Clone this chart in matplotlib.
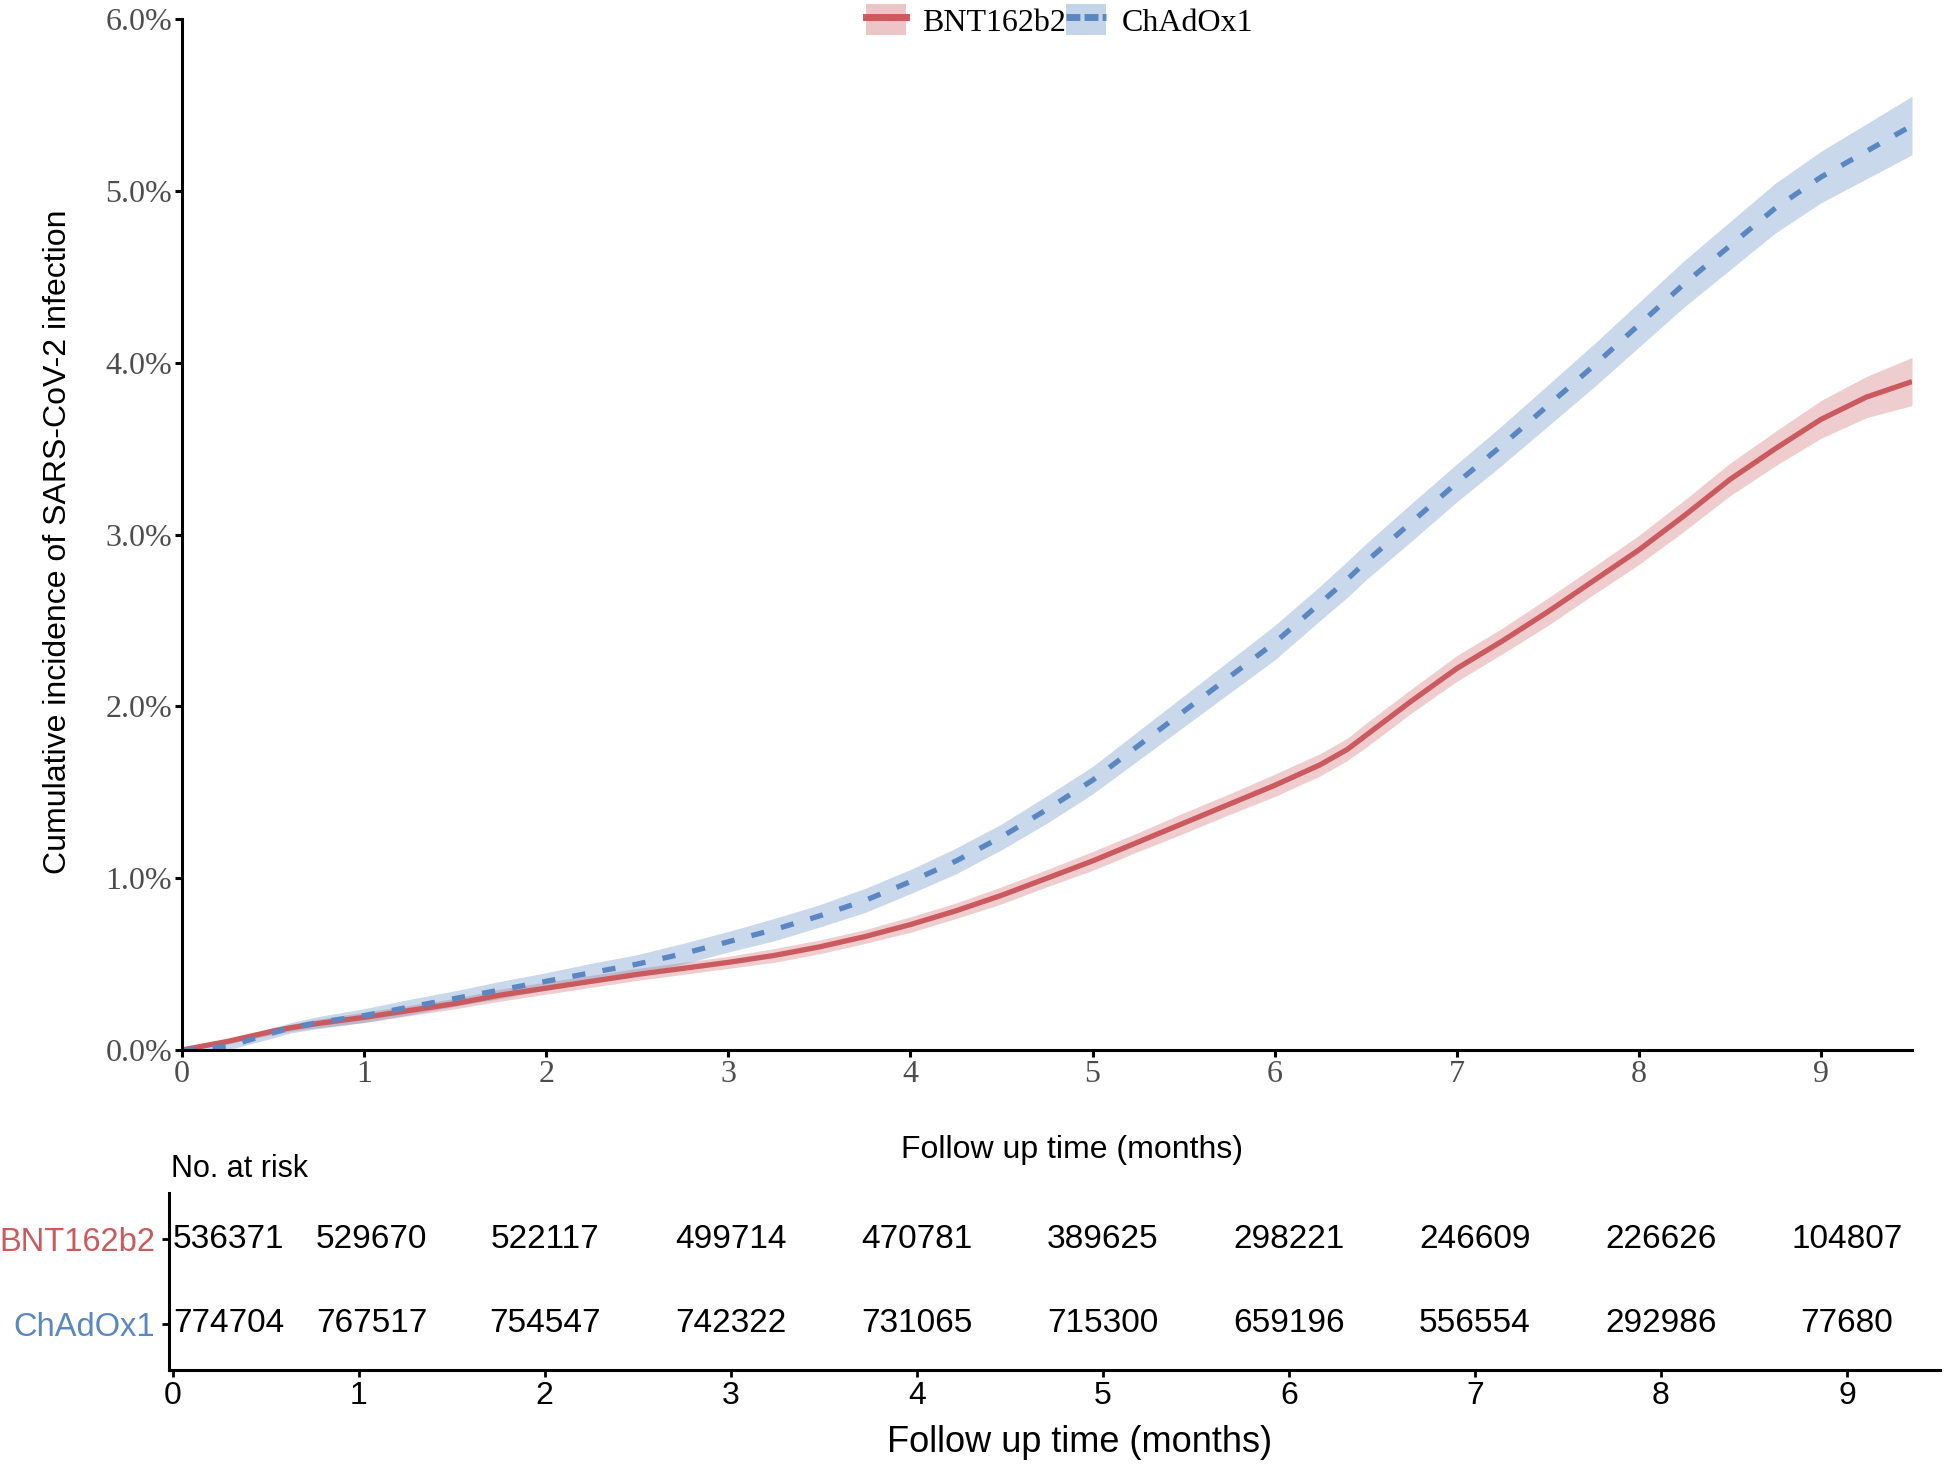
import matplotlib
matplotlib.use("Agg")
import matplotlib.pyplot as plt
from matplotlib.patches import Patch
from matplotlib.lines import Line2D
import numpy as np

# ---------------- data ----------------
months = [0, 0.25, 0.5, 0.6, 0.75, 1.0, 1.25, 1.5, 1.75, 2.0, 2.25, 2.5, 2.75, 3.0, 3.25, 3.5, 3.75,
          4.0, 4.25, 4.5, 4.75, 5.0, 5.25, 5.5, 5.75, 6.0, 6.25, 6.4, 6.5, 6.75, 7.0, 7.25, 7.5,
          7.75, 8.0, 8.25, 8.5, 8.75, 9.0, 9.25, 9.5]
bnt_pct = [0.0, 0.05, 0.11, 0.13, 0.155, 0.19, 0.23, 0.27, 0.32, 0.36, 0.40, 0.44, 0.475, 0.51, 0.55, 0.60, 0.66,
           0.73, 0.81, 0.90, 1.00, 1.10, 1.21, 1.32, 1.43, 1.54, 1.66, 1.75, 1.83, 2.03, 2.22, 2.38, 2.55,
           2.73, 2.91, 3.11, 3.32, 3.50, 3.67, 3.80, 3.89]
bnt_half = [0.0, 0.015, 0.02, 0.02, 0.025, 0.03, 0.03, 0.03, 0.035, 0.035, 0.035, 0.035, 0.035, 0.035, 0.04, 0.04, 0.04,
            0.045, 0.045, 0.05, 0.05, 0.055, 0.055, 0.06, 0.06, 0.065, 0.065, 0.065, 0.07, 0.07, 0.075, 0.075, 0.08,
            0.08, 0.085, 0.09, 0.095, 0.10, 0.11, 0.12, 0.14]
chad_pct = [0.0, 0.02, 0.10, 0.13, 0.16, 0.20, 0.25, 0.30, 0.35, 0.40, 0.45, 0.50, 0.56, 0.63, 0.70, 0.78, 0.87,
            0.98, 1.10, 1.24, 1.40, 1.57, 1.77, 1.97, 2.17, 2.37, 2.60, 2.74, 2.84, 3.07, 3.30, 3.52, 3.75,
            3.98, 4.22, 4.46, 4.68, 4.90, 5.08, 5.23, 5.38]
chad_half = [0.0, 0.02, 0.03, 0.03, 0.035, 0.04, 0.045, 0.045, 0.05, 0.05, 0.055, 0.055, 0.06, 0.06, 0.065, 0.065, 0.07,
             0.07, 0.075, 0.075, 0.08, 0.08, 0.085, 0.09, 0.095, 0.10, 0.10, 0.105, 0.105, 0.11, 0.11, 0.115, 0.12,
             0.125, 0.13, 0.135, 0.14, 0.145, 0.15, 0.16, 0.17]

groups = ["BNT162b2", "ChAdOx1"]
risk_times = [0, 1, 2, 3, 4, 5, 6, 7, 8, 9]
risk_bnt = [536371, 529670, 522117, 499714, 470781, 389625, 298221, 246609, 226626, 104807]
risk_chad = [774704, 767517, 754547, 742322, 731065, 715300, 659196, 556554, 292986, 77680]
y_ticks = [0.0, 1.0, 2.0, 3.0, 4.0, 5.0, 6.0]

# ---------------- style ----------------
RED = "#CB5A5F"
BLUE = "#5A87C1"
SERIF = "Liberation Serif"
SANS = "Liberation Sans"
W, H = 1944, 1464

fig = plt.figure(figsize=(W / 100, H / 100), dpi=100)

def fx(px):
    return px / W

def fy(py):
    return 1 - py / H

# ---------------- main plot ----------------
ax = fig.add_axes([fx(182), fy(1050), fx(1912 - 182), (1050 - 19) / H])
m = np.array(months)
b = np.array(bnt_pct)
bh = np.array(bnt_half)
c = np.array(chad_pct)
ch = np.array(chad_half)

ax.fill_between(m, b - bh, b + bh, color=RED, alpha=0.3, lw=0)
ax.fill_between(m, c - ch, c + ch, color=BLUE, alpha=0.32, lw=0)
ax.plot(m, b, color=RED, lw=3.8, solid_capstyle="butt", solid_joinstyle="round")
ax.plot(m, c, color=BLUE, lw=3.8, dashes=(2.5, 3.3))

ax.set_xlim(0, 9.5)
ax.set_ylim(0, 6.0)
ax.set_xticks(risk_times)
ax.set_xticklabels([str(t) for t in risk_times], fontfamily=SERIF, fontsize=23, color="#4D4D4D")
ax.set_yticks(y_ticks)
ax.set_yticklabels([f"{v:.1f}%" for v in y_ticks], fontfamily=SERIF, fontsize=23, color="#4D4D4D")
for s in ["top", "right"]:
    ax.spines[s].set_visible(False)
for s in ["left", "bottom"]:
    ax.spines[s].set_linewidth(2.2)
ax.tick_params(axis="both", direction="out", length=5, width=2.2, pad=2)

fig.text(fx(58), fy(542), "Cumulative incidence of SARS-CoV-2 infection", rotation=90,
         ha="center", va="center", fontsize=23, fontfamily=SANS)
fig.text(fx(1072), fy(1150), "Follow up time (months)", ha="center", va="center",
         fontsize=23, fontfamily=SANS)

# legend
h_red = (Patch(facecolor=RED, alpha=0.35, edgecolor="none"), Line2D([], [], color=RED, lw=5))
h_blue = (Patch(facecolor=BLUE, alpha=0.35, edgecolor="none"), Line2D([], [], color=BLUE, lw=5, dashes=(2.0, 0.6)))
leg = fig.legend([h_red, h_blue], groups, loc="center", bbox_to_anchor=(fx(1060), fy(21)),
                 ncol=2, frameon=False, handlelength=1.25, handleheight=1.1,
                 columnspacing=0.0, handletextpad=0.5,
                 prop={"family": SERIF, "size": 23})

# ---------------- risk table ----------------
tx = fig.add_axes([fx(169), fy(1370), fx(1940 - 169), (1370 - 1193) / H])
tx.set_xlim(-0.02, 9.5)
tx.set_ylim(0.45, 2.55)
rows = [(2, risk_bnt), (1, risk_chad)]
label_x = {0: 0.30, 1: 1.07}
for yrow, vals in rows:
    for t, v in zip(risk_times, vals):
        x = label_x.get(t, t)
        tx.text(x, yrow, str(v), ha="center", va="center", fontsize=24, fontfamily=SANS)
tx.set_yticks([2, 1])
tx.set_yticklabels(groups, fontfamily=SANS, fontsize=23.5)
for lbl, col in zip(tx.get_yticklabels(), [RED, BLUE]):
    lbl.set_color(col)
tx.set_xticks(risk_times)
tx.set_xticklabels([str(t) for t in risk_times], fontfamily=SANS, fontsize=23)
tx.tick_params(axis="y", pad=5)
for s in ["top", "right"]:
    tx.spines[s].set_visible(False)
for s in ["left", "bottom"]:
    tx.spines[s].set_linewidth(2.2)
tx.tick_params(axis="both", direction="out", length=5, width=2.0)
tx.tick_params(axis="x", pad=3)

fig.text(fx(171), fy(1169), "No. at risk", ha="left", va="center", fontsize=22, fontfamily=SANS)
fig.text(fx(1080), fy(1443), "Follow up time (months)", ha="center", va="center",
         fontsize=26, fontfamily=SANS)

fig.savefig("out.png", dpi=100)
